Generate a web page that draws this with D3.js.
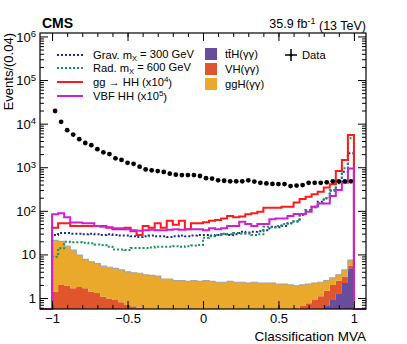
<!DOCTYPE html>
<html>
<head>
<meta charset="utf-8">
<script src="https://cdn.jsdelivr.net/npm/d3@7"></script>
<style>
  body { margin: 0; background: #fff; }
  text { font-family: "Liberation Sans", Arial, sans-serif; fill: #000; }
</style>
</head>
<body>
<svg width="407" height="344"></svg>
<script>
// histogram binning: 50 bins of 0.04 on [-1, 1]
var binStart = -1, binWidth = 0.04, nBins = 50;

var dataEvents = [19500, 11000, 7100, 5600, 4400, 3600, 3200, 2600, 2200, 2000,
  1600, 1470, 1260, 1200, 1030, 890, 850, 815, 780, 710,
  675, 660, 660, 660, 630, 560, 550, 500, 490, 475,
  475, 475, 500, 470, 440, 425, 415, 410, 410, 370,
  380, 390, 440, 440, 440, 450, 475, 475, 475, 475];

var gravHH = [28, 31, 31, 30, 30, 29, 30, 29, 28, 29,
  28, 27, 27, 26, 25, 26, 27, 26, 26, 25,
  26, 27, 26, 27, 28, 28, 27, 28, 29, 28,
  29, 33, 32, 33, 34, 36, 43, 42, 45, 52,
  57, 80, 105, 124, 162, 194, 290, 430, 790, 2100];

var radHH = [8.9, 13.8, 19.5, 19, 19, 18.5, 18, 17, 16.5, 15,
  13, 13, 12.6, 14, 14, 14, 14.5, 15, 15, 15,
  15.5, 15, 15.5, 16, 16.5, 24, 26, 28, 30, 29,
  31, 30, 30, 28, 29, 43, 42, 45, 50, 52,
  58, 80, 105, 120, 150, 194, 300, 440, 950, 4600];

var ggHH = [41, 52, 52, 45, 45, 45, 45, 45, 45, 41,
  38, 38, 41, 34, 28, 45, 41, 52, 41, 59,
  48, 59, 38, 52, 52, 55, 59, 62, 67, 76,
  71, 74, 83, 88, 95, 118, 118, 118, 124, 124,
  155, 186, 210, 240, 275, 345, 405, 820, 1470, 5500];

var vbfHH = [83, 88, 71, 54, 54, 52, 52, 45, 43, 42,
  40, 40, 38, 36, 35, 36, 37, 36, 36, 37,
  38, 37, 38, 38, 38, 36, 40, 38, 40, 45,
  45, 56, 50, 45, 50, 50, 64, 67, 67, 76,
  85, 85, 95, 124, 148, 148, 219, 300, 440, 940];

var ttH = [0.02, 0.02, 0.02, 0.02, 0.02, 0.02, 0.02, 0.02, 0.02, 0.02,
  0.02, 0.02, 0.02, 0.02, 0.02, 0.02, 0.02, 0.02, 0.02, 0.02,
  0.02, 0.02, 0.02, 0.02, 0.02, 0.02, 0.02, 0.02, 0.02, 0.02,
  0.03, 0.03, 0.04, 0.04, 0.05, 0.06, 0.07, 0.08, 0.1, 0.12,
  0.15, 0.2, 0.26, 0.35, 0.5, 0.66, 0.9, 1.28, 2.2, 4.8];

var vh = [1.38, 1.98, 1.93, 1.65, 1.78, 1.65, 1.38, 1.28, 1.05, 0.96,
  0.88, 0.78, 0.67, 0.63, 0.58, 0.53, 0.48, 0.45, 0.42, 0.38,
  0.35, 0.33, 0.31, 0.3, 0.28, 0.28, 0.28, 0.28, 0.28, 0.28,
  0.27, 0.28, 0.28, 0.29, 0.29, 0.3, 0.31, 0.32, 0.33, 0.35,
  0.37, 0.46, 0.5, 0.55, 0.6, 0.81, 1.1, 1.22, 0.9, 0.8];

var ggH = [19.6, 18, 13.5, 10.9, 7.9, 6.0, 5.4, 4.9, 4.3, 4.1,
  3.9, 3.6, 3.3, 3.15, 3.1, 2.85, 2.8, 2.73, 2.26, 2.3,
  2.13, 2.15, 2.07, 2.18, 2.1, 2.2, 2.1, 2.0, 2.0, 2.1,
  2.0, 1.99, 1.88, 1.97, 1.86, 1.84, 1.82, 1.7, 1.67, 1.53,
  1.38, 1.34, 1.34, 1.3, 1.2, 1.03, 0.9, 0.9, 1.3, 1.8];

var xMajor = [-1, -0.5, 0, 0.5, 1];
var yMajor = [1, 10, 100, 1000, 10000, 100000, 1000000];

var svg = d3.select("svg");
var pLeft = 40, pRight = 366, pTop = 33, pBottom = 309;

var x = d3.scaleLinear().domain([-1.08, 1.08]).range([pLeft, pRight]);
var y = d3.scaleLog().domain([0.56, 1.2e6]).range([pBottom, pTop]).clamp(true);

var lo = function(i) { return binStart + i * binWidth; };

// stacked SM Higgs backgrounds
var rows = d3.range(nBins).map(function(i) {
  return { i: i, ttH: ttH[i], vh: vh[i], ggH: ggH[i] };
});
var stack = d3.stack().keys(["ttH", "vh", "ggH"])(rows);
var fills = { ttH: "#6a4c9c", vh: "#e0552b", ggH: "#eaa92b" };

function stepPts(layer) {
  var pts = [];
  layer.forEach(function(d, i) {
    pts.push({ x: lo(i), y0: d[0], y1: d[1] });
    pts.push({ x: lo(i) + binWidth, y0: d[0], y1: d[1] });
  });
  return pts;
}

var area = d3.area()
  .x(function(d) { return x(d.x); })
  .y0(function(d) { return y(Math.max(d.y0, 0.01)); })
  .y1(function(d) { return y(Math.max(d.y1, 0.01)); });

var plot = svg.append("g");

plot.selectAll("path.stack")
  .data(stack)
  .enter().append("path")
    .attr("class", "stack")
    .attr("fill", function(d) { return fills[d.key]; })
    .attr("d", function(d) { return area(stepPts(d)); });

// thin grey outline on the top of the stack
var topLine = d3.line()
  .x(function(d) { return x(d.x); })
  .y(function(d) { return y(d.y1); });
plot.append("path")
  .attr("fill", "none")
  .attr("stroke", "#aaa49a")
  .attr("stroke-width", 1.2)
  .attr("d", topLine(stepPts(stack[2])));

// signal histograms drawn as steps, dropping to the frame floor at the ends
var line = d3.line()
  .x(function(d) { return x(d[0]); })
  .y(function(d) { return y(d[1]); });

function histPts(vals) {
  var pts = [[-1.08, 0.01], [binStart, 0.01]];
  vals.forEach(function(v, i) {
    pts.push([lo(i), v]);
    pts.push([lo(i) + binWidth, v]);
  });
  pts.push([binStart + nBins * binWidth, 0.01]);
  pts.push([1.08, 0.01]);
  return pts;
}

var signals = [
  { vals: gravHH, color: "#1c2b9c", dash: "2,2" },
  { vals: radHH, color: "#18905a", dash: "2,2" },
  { vals: ggHH, color: "#ff1a1a", dash: null },
  { vals: vbfHH, color: "#d21fd6", dash: null }
];

signals.forEach(function(s) {
  plot.append("path")
    .attr("fill", "none")
    .attr("stroke", s.color)
    .attr("stroke-width", 2)
    .attr("stroke-dasharray", s.dash)
    .attr("d", line(histPts(s.vals)));
});

// data points
plot.selectAll("circle.data")
  .data(dataEvents)
  .enter().append("circle")
    .attr("class", "data")
    .attr("cx", function(d, i) { return x(lo(i) + binWidth / 2); })
    .attr("cy", function(d) { return y(d); })
    .attr("r", 2.4)
    .attr("fill", "#000");

// frame + axes (ticks pointing inward, ROOT style)
var xMinor = d3.range(-10, 11).map(function(k) { return k / 10; });
var yMinor = [];
for (var e = -1; e < 7; e++) {
  for (var m = 2; m <= 9; m++) {
    var v = m * Math.pow(10, e);
    if (v > 0.56 && v < 1.2e6) yMinor.push(v);
  }
}

function addAxis(axisFn, scale, pos, major, minor, labels, fmt) {
  var g = svg.append("g").attr("transform", pos);
  g.call(axisFn(scale).tickValues(minor).tickSize(-4).tickFormat(""));
  var g2 = svg.append("g").attr("transform", pos);
  g2.call(axisFn(scale).tickValues(major).tickSize(-8).tickPadding(5)
    .tickFormat(labels ? fmt : ""));
  [g, g2].forEach(function(a) {
    a.select(".domain").remove();
    a.selectAll("line").attr("stroke", "#000");
  });
  return g2;
}

var xfmt = d3.format("~g");
var gx = addAxis(d3.axisBottom, x, "translate(0," + pBottom + ")", xMajor, xMinor, true, xfmt);
gx.selectAll("text").attr("font-size", 13).attr("dy", "0.71em");
addAxis(d3.axisTop, x, "translate(0," + pTop + ")", xMajor, xMinor, false);

var gy = addAxis(d3.axisLeft, y, "translate(" + pLeft + ",0)", yMajor, yMinor, true, function(d) { return ""; });
addAxis(d3.axisRight, y, "translate(" + pRight + ",0)", yMajor, yMinor, false);

gy.selectAll("text").each(function(d) {
  var t = d3.select(this).attr("font-size", 13).attr("dy", "0.35em").attr("x", -4);
  var p = Math.round(Math.log10(d));
  if (p === 0) t.text("1");
  else if (p === 1) t.text("10");
  else {
    t.text("10");
    t.append("tspan").attr("dy", "-0.45em").attr("font-size", 9.5).text(p);
  }
});

svg.append("rect")
  .attr("x", pLeft).attr("y", pTop)
  .attr("width", pRight - pLeft).attr("height", pBottom - pTop)
  .attr("fill", "none").attr("stroke", "#000").attr("stroke-width", 1.2);

// titles
svg.append("text").attr("x", 42).attr("y", 28)
  .attr("font-size", 14).attr("font-weight", "bold").text("CMS");

var lumi = svg.append("text").attr("x", pRight).attr("y", 28)
  .attr("font-size", 12.5).attr("text-anchor", "end");
lumi.append("tspan").text("35.9 fb");
lumi.append("tspan").attr("dy", "-0.45em").attr("font-size", 9).text("-1");
lumi.append("tspan").attr("dy", "0.45em").text(" (13 TeV)");

svg.append("text")
  .attr("transform", "translate(13," + pTop + ") rotate(-90)")
  .attr("text-anchor", "end").attr("font-size", 13)
  .text("Events/(0.04)");

svg.append("text").attr("x", pRight).attr("y", 341)
  .attr("text-anchor", "end").attr("font-size", 13.5)
  .text("Classification MVA");

// legend
var legL = [
  { label: ["Grav. m", "X", " = 300 GeV"], color: "#1c2b9c", dash: "2,2" },
  { label: ["Rad. m", "X", " = 600 GeV"], color: "#18905a", dash: "2,2" },
  { label: ["gg \u2192 HH (x10", "4", ")"], color: "#ff1a1a", dash: null, sup: true },
  { label: ["VBF HH (x10", "5", ")"], color: "#d21fd6", dash: null, sup: true }
];
var legY = [55, 68, 82, 96];

legL.forEach(function(d, k) {
  var yy = legY[k];
  svg.append("line")
    .attr("x1", 57).attr("x2", 83).attr("y1", yy).attr("y2", yy)
    .attr("stroke", d.color).attr("stroke-width", 2)
    .attr("stroke-dasharray", d.dash);
  var t = svg.append("text").attr("x", 93).attr("y", yy + 4).attr("font-size", 11.2);
  t.append("tspan").text(d.label[0]);
  if (d.sup) {
    t.append("tspan").attr("dy", "-0.45em").attr("font-size", 8).text(d.label[1]);
    t.append("tspan").attr("dy", "0.45em").text(d.label[2]);
  } else {
    t.append("tspan").attr("dy", "0.22em").attr("font-size", 7.5).text(d.label[1]);
    t.append("tspan").attr("dy", "-0.22em").text(d.label[2]);
  }
});

var legR = [
  { key: "ttH", label: "t\u0074\u0304H(\u03b3\u03b3)" },
  { key: "vh", label: "VH(\u03b3\u03b3)" },
  { key: "ggH", label: "ggH(\u03b3\u03b3)" }
];
var legRY = [54, 69, 84];
legR.forEach(function(d, k) {
  svg.append("rect")
    .attr("x", 205).attr("y", legRY[k] - 6).attr("width", 12).attr("height", 12)
    .attr("fill", fills[d.key]);
  svg.append("text").attr("x", 225).attr("y", legRY[k] + 4)
    .attr("font-size", 11.2).text(d.label);
});

// data legend entry
svg.append("line").attr("x1", 285).attr("x2", 297).attr("y1", 55).attr("y2", 55)
  .attr("stroke", "#000").attr("stroke-width", 1.5);
svg.append("line").attr("x1", 291).attr("x2", 291).attr("y1", 49).attr("y2", 61)
  .attr("stroke", "#000").attr("stroke-width", 1.5);
svg.append("circle").attr("cx", 291).attr("cy", 55).attr("r", 1.5).attr("fill", "#000");
svg.append("text").attr("x", 302).attr("y", 59).attr("font-size", 11.2).text("Data");
</script>
</body>
</html>
